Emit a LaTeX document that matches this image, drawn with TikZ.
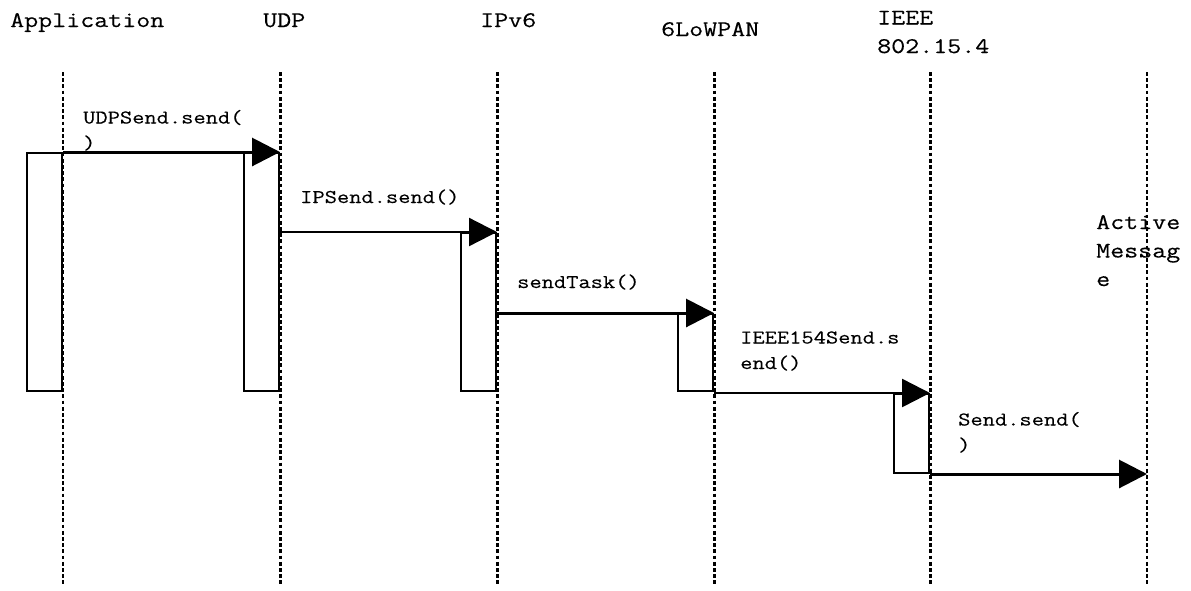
\documentclass[tikz,border=0pt]{standalone}
\usepackage{fontspec}
\setmonofont[FakeStretch=1.22,FakeBold=0.35]{Latin Modern Mono}
\usetikzlibrary{arrows.meta}

\begin{document}
\begin{tikzpicture}[x=1pt,y=-1pt,
  head/.style={font=\ttfamily\fontsize{22.3}{28.5}\selectfont, anchor=base west, inner sep=0pt, align=left},
  lbl/.style={font=\ttfamily\fontsize{19.5}{25.5}\selectfont, anchor=base west, inner sep=0pt, align=left},
  lifeline/.style={line width=3pt, dash pattern=on 3.8pt off 2.4pt},
  actbox/.style={draw, line width=2pt, fill=white, minimum width=35pt, inner sep=0pt, anchor=north east},
  msg/.style={line width=3pt, -{Triangle[length=28pt,width=28pt]}}]

\useasboundingbox (0,0) rectangle (1191,590);

% participants (multi-line nodes are anchored on their last baseline)
\node[head] (happ)  at (10,27)   {Application};
\node[head] (hudp)  at (263,27)  {UDP};
\node[head] (hip)   at (480,27)  {IPv6};
\node[head] (hlow)  at (661,36)  {6LoWPAN};
\node[head] (hieee) at (877,53)  {IEEE\\802.15.4};
\node[head] (ham)   at (1096,286) {Active\\Messag\\e};

% lifeline ends
\coordinate (appT)  at (63,72);   \coordinate (appB)  at (63,585);
\coordinate (udpT)  at (280,72);  \coordinate (udpB)  at (280,585);
\coordinate (ipT)   at (497,72);  \coordinate (ipB)   at (497,585);
\coordinate (lowT)  at (714,72);  \coordinate (lowB)  at (714,585);
\coordinate (ieeeT) at (930,72);  \coordinate (ieeeB) at (930,585);
\coordinate (amT)   at (1147,72); \coordinate (amB)   at (1147,585);

% activation bars
\node[actbox, minimum height=238pt] (appbox)  at (63,152)  {};
\node[actbox, minimum height=238pt] (udpbox)  at (280,152) {};
\node[actbox, minimum height=158pt] (ipbox)   at (497,232) {};
\node[actbox, minimum height=77pt]  (lowbox)  at (714,313) {};
\node[actbox, minimum height=79pt]  (ieeebox) at (930,393) {};

% lifelines
\draw[lifeline, line width=2.2pt] (appT) -- (appB);
\draw[lifeline] (udpT) -- (udpB);
\draw[lifeline] (ipT) -- (ipB);
\draw[lifeline] (lowT) -- (lowB);
\draw[lifeline] (ieeeT) -- (ieeeB);
\draw[lifeline, line width=2.2pt] (amT) -- (amB);

% messages
\draw[msg] (appbox.north east) -- (udpbox.north east);
\draw[msg, line width=2.3pt] (udpbox.east |- ipbox.north) -- (ipbox.north east);
\draw[msg] (ipbox.east |- lowbox.north) -- (lowbox.north east);
\draw[msg, line width=2.5pt] (lowbox.east |- ieeebox.north) -- (ieeebox.north east);
\draw[msg] (ieeebox.south east) -- (ieeebox.south -| amT);

% message labels
\node[lbl] (l1) at (83,149)  {UDPSend.send(\\)};
\node[lbl] (l2) at (300,203) {IPSend.send()};
\node[lbl] (l3) at (517,288) {sendTask()};
\node[lbl] (l4) at (740,369) {IEEE154Send.s\\end()};
\node[lbl] (l5) at (958,451) {Send.send(\\)};
\end{tikzpicture}
\end{document}
